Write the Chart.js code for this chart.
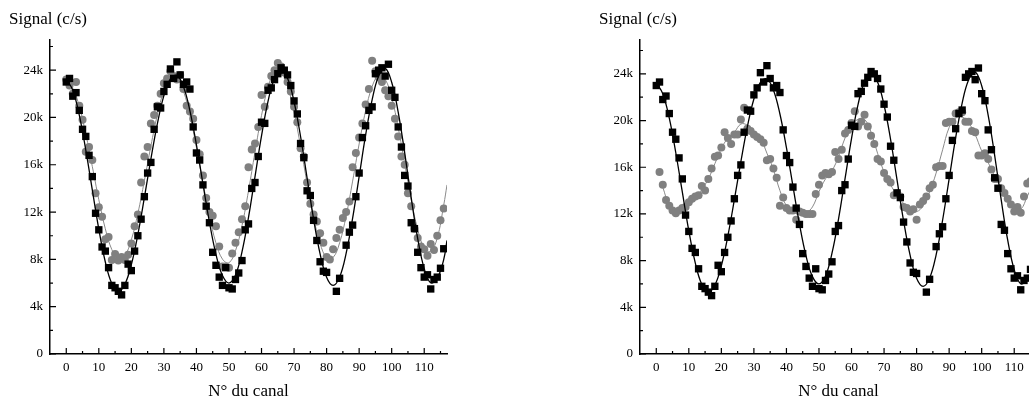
<!DOCTYPE html>
<html lang="fr">
<head>
<meta charset="UTF-8">
<title>Signal (c/s) - N° du canal</title>
<script src="https://cdn.jsdelivr.net/npm/chart.js@4.4.0/dist/chart.umd.min.js"></script>
<style>
  html, body { margin: 0; padding: 0; overflow: hidden; background: #fff; width: 1029px; height: 403px; }
  .panel { position: absolute; top: 0; width: 455px; height: 403px; }
  #left { left: 0; }
  #right { left: 590px; }
</style>
</head>
<body>
<div class="panel" id="left"><canvas id="chartLeft" width="455" height="403"></canvas></div>
<div class="panel" id="right"><canvas id="chartRight" width="455" height="403"></canvas></div>

<script>
// channel numbers (x)
const channels = [
  0, 1, 2, 3, 4, 5, 6, 7, 8, 9, 10, 11, 12, 13, 14, 15, 16, 17, 18, 19,
  20, 21, 22, 23, 24, 25, 26, 27, 28, 29, 30, 31, 32, 33, 34, 35, 36, 37, 38, 39,
  40, 41, 42, 43, 44, 45, 46, 47, 48, 49, 50, 51, 52, 53, 54, 55, 56, 57, 58, 59,
  60, 61, 62, 63, 64, 65, 66, 67, 68, 69, 70, 71, 72, 73, 74, 75, 76, 77, 78, 79,
  80, 81, 82, 83, 84, 85, 86, 87, 88, 89, 90, 91, 92, 93, 94, 95, 96, 97, 98, 99,
  100, 101, 102, 103, 104, 105, 106, 107, 108, 109, 110, 111, 112, 113, 114, 115, 116
];

// signal in thousands of counts/s
const blackSignal = [
  23.0, 23.3, 21.8, 22.1, 20.6, 19.0, 18.4, 16.8, 15.0, 11.9,
  10.5, 9.05, 8.7, 7.3, 5.8, 5.6, 5.3, 5.0, 5.8, 7.6,
  7.05, 8.7, 10.0, 11.4, 13.3, 15.3, 16.2, 19.0, 20.9, 20.8,
  22.2, 22.8, 24.1, 23.3, 24.7, 23.6, 22.8, 23.0, 22.4, 19.2,
  17.0, 16.4, 14.3, 12.5, 11.1, 8.6, 7.5, 6.5, 5.8, 7.3,
  5.6, 5.5, 6.3, 6.85, 7.9, 10.5, 11.0, 14.0, 14.5, 16.7,
  19.6, 19.5, 22.3, 22.5, 23.2, 23.7, 24.2, 24.0, 23.6, 22.7,
  21.4, 20.3, 17.8, 16.6, 13.8, 13.4, 11.3, 9.6, 7.8, 7.0,
  6.9, null, null, 5.3, 6.4, null, 9.2, 10.3, 10.9, 13.3,
  15.3, 18.3, 19.3, 20.6, 20.9, 23.7, 24.0, 24.2, 23.5, 24.5,
  22.3, 21.7, 19.2, 17.5, 15.1, 14.2, 11.1, 10.6, 8.6, 7.3,
  6.5, 6.7, 5.5, 6.3, 6.5, 7.25, 8.9
];

const grayLeft = [
  23.2, 22.7, 22.0, 23.0, 21.0, 19.8, 17.1, 17.5, 16.4, 13.6,
  12.4, 11.6, 9.7, 9.9, 7.95, 8.45, 7.9, 8.2, 7.95, 8.4,
  9.35, 10.8, 11.8, 14.5, 16.7, 17.5, 19.5, 20.2, 21.0, 22.0,
  22.9, 23.3, 23.9, 23.5, 23.2, 23.6, 22.4, 21.0, 20.5, 19.9,
  18.1, 16.9, 15.1, 13.2, 12.0, 11.7, 10.8, 9.1, 7.4, 7.4,
  7.3, 8.5, 9.4, 10.3, 11.4, 12.5, 15.8, 17.3, 17.8, 19.2,
  21.9, 20.9, 22.6, 23.5, 24.0, 24.6, 24.3, 23.8, 23.0, 22.2,
  20.9, 19.6, 17.4, 16.7, 14.5, 12.7, 11.8, 11.2, 10.2, 9.4,
  8.2, 8.0, 8.85, 9.8, 10.5, 11.5, 12.0, 12.9, 15.8, 17.0,
  18.3, 19.5, 21.1, 22.4, 24.8, 23.9, 23.4, 23.0, 22.3, 21.8,
  21.0, 19.9, 18.4, 16.7, 16.0, 13.6, 12.5, 10.6, 9.8, 9.1,
  8.85, 8.3, 9.3, 8.8, 10.0, 11.3, 12.3
];

const grayRight = [
  null, 15.6, 14.5, 13.2, 12.7, 12.3, 12.05, 12.3, 12.5, 12.6,
  13.0, 13.3, 13.5, 13.6, 14.4, 14.0, 15.0, 15.9, 16.9, 17.0,
  17.7, 19.0, 18.5, 18.0, 18.8, 18.8, 20.1, 21.1, 19.3, 19.1,
  18.8, 18.6, 18.4, 18.1, 16.6, 16.7, 15.9, 15.1, 12.7, 13.4,
  12.5, 12.3, 12.3, 11.5, 12.2, 12.1, 12.0, 12.0, 12.0, 13.7,
  14.5, 15.3, 15.5, 15.4, 15.6, 17.3, 16.7, 17.5, 18.9, 19.2,
  19.8, 20.8, 19.5, 19.9, 20.5, 19.5, 18.7, 18.0, 16.7, 16.5,
  15.5, 15.0, 14.7, 13.6, 13.8, 13.5, 12.6, 12.5, 12.2, 12.4,
  11.5, 12.8, 13.1, 13.5, 14.2, 14.5, 16.0, 16.1, 16.1, 19.8,
  19.9, 19.9, 20.6, 20.7, 20.7, 19.9, 19.9, 19.1, 19.0, 17.0,
  17.0, 17.2, 16.7, 15.8, 15.0, 15.0, 14.2, 13.8, 13.3, 12.8,
  12.2, 12.6, 12.1, 13.5, 14.6, 14.8, null
];

// fitted curves, every 2 channels
const fitChannels = [
  0, 2, 4, 6, 8, 10, 12, 14, 16, 18, 20, 22, 24, 26, 28, 30, 32, 34, 36, 38,
  40, 42, 44, 46, 48, 50, 52, 54, 56, 58, 60, 62, 64, 66, 68, 70, 72, 74, 76, 78,
  80, 82, 84, 86, 88, 90, 92, 94, 96, 98, 100, 102, 104, 106, 108, 110, 112, 114, 116, 117
];
const blackFit = [
  23.26, 22.3, 20.2, 17.24, 13.88, 10.56, 7.78, 5.95, 5.3, 5.89,
  7.56, 10.11, 13.22, 16.48, 19.48, 21.85, 23.27, 23.56, 22.62, 20.56,
  17.68, 14.39, 11.14, 8.43, 6.63, 6.0, 6.68, 8.64, 11.55, 15.0,
  18.45, 21.36, 23.32, 24.0, 23.31, 21.33, 18.39, 14.9, 11.41, 8.47,
  6.49, 5.8, 6.5, 8.5, 11.48, 15.0, 18.52, 21.5, 23.5, 24.15,
  22.98, 20.45, 17.0, 13.2, 9.75, 7.22, 6.02, 6.39, 8.0, 9.6
];
const grayLeftFit = [
  23.0, 22.46, 20.93, 18.61, 15.86, 13.05, 10.59, 8.83, 8.04, 8.32,
  9.66, 11.88, 14.65, 17.58, 20.24, 22.27, 23.36, 23.36, 22.24, 20.18,
  17.46, 14.48, 11.65, 9.39, 8.02, 7.72, 8.73, 10.85, 13.8, 17.08,
  20.17, 22.55, 23.83, 23.85, 22.65, 20.45, 17.56, 14.44, 11.55, 9.35,
  8.15, 8.16, 9.4, 11.67, 14.62, 17.76, 20.58, 22.62, 23.56, 23.23,
  21.67, 19.15, 16.1, 13.05, 10.53, 8.97, 8.7, 9.8, 12.6, 14.3
];
const fitChannelsRight = [
  2, 4, 6, 8, 10, 12, 14, 16, 18, 20, 22, 24, 26, 28, 30, 32, 34, 36, 38, 40,
  42, 44, 46, 48, 50, 52, 54, 56, 58, 60, 62, 64, 66, 68, 70, 72, 74, 76, 78, 80,
  82, 84, 86, 88, 90, 92, 94, 96, 98, 100, 102, 104, 106, 108, 110, 112, 114, 116
];
const grayRightFit = [
  14.3, 12.7, 12.1, 12.4, 12.9, 13.4, 14.1, 15.0, 16.3, 17.6,
  18.5, 19.0, 19.7, 19.6, 19.0, 18.5, 17.2, 15.8, 14.0, 12.7,
  12.2, 12.0, 12.1, 12.6, 13.9, 15.0, 15.7, 16.9, 18.5, 19.6,
  20.1, 20.1, 19.0, 17.2, 15.6, 14.5, 13.6, 12.9, 12.4, 12.2,
  12.7, 13.9, 15.5, 17.5, 19.4, 20.2, 20.3, 19.8, 18.8, 17.4,
  16.4, 15.2, 14.2, 13.3, 12.5, 12.4, 13.5, 14.7
];

const xTicks = [0, 10, 20, 30, 40, 50, 60, 70, 80, 90, 100, 110];
const xMinorTicks = [5, 15, 25, 35, 45, 55, 65, 75, 85, 95, 105, 115];
const yTicks = [0, 4, 8, 12, 16, 20, 24];
const yMinorTicks = [2, 6, 10, 14, 18, 22, 26];

const serif = "'Liberation Serif', 'Times New Roman', serif";

function toPoints(xs, ys) {
    return xs.map((x, i) => ({ x: x, y: ys[i] })).filter(p => p.y !== null);
}

// ticks pointing into the plot, like the original figure
const innerTicks = {
    id: 'innerTicks',
    afterDraw(chart) {
        const { ctx, scales: { x, y } } = chart;
        const bottom = y.bottom, left = x.left;
        ctx.save();
        ctx.strokeStyle = '#000';
        ctx.lineWidth = 1.2;
        ctx.beginPath();
        xTicks.forEach(v => {
            const px = x.getPixelForValue(v);
            ctx.moveTo(px, bottom); ctx.lineTo(px, bottom - 6);
        });
        xMinorTicks.forEach(v => {
            const px = x.getPixelForValue(v);
            ctx.moveTo(px, bottom); ctx.lineTo(px, bottom - 3);
        });
        yTicks.forEach(v => {
            const py = y.getPixelForValue(v);
            ctx.moveTo(left, py); ctx.lineTo(left + 6, py);
        });
        yMinorTicks.forEach(v => {
            const py = y.getPixelForValue(v);
            ctx.moveTo(left, py); ctx.lineTo(left + 3, py);
        });
        ctx.stroke();
        ctx.restore();
    }
};

function makeChart(id, grayData, grayFitX, grayFitY, yMax) {
    const ctx = document.getElementById(id).getContext('2d');
    return new Chart(ctx, {
        type: 'scatter',
        data: {
            datasets: [
                {
                    label: 'carrés',
                    data: toPoints(channels, blackSignal),
                    pointStyle: 'rect',
                    pointRadius: 5.2,
                    backgroundColor: '#000',
                    borderColor: '#000',
                    borderWidth: 0,
                    showLine: false
                },
                {
                    type: 'line',
                    label: 'ajustement',
                    data: toPoints(fitChannels, blackFit),
                    borderColor: '#000',
                    borderWidth: 1.3,
                    pointRadius: 0,
                    tension: 0.4,
                    fill: false
                },
                {
                    label: 'cercles',
                    data: toPoints(channels, grayData),
                    pointStyle: 'circle',
                    pointRadius: 4,
                    backgroundColor: '#808080',
                    borderColor: '#808080',
                    borderWidth: 0,
                    showLine: false
                },
                {
                    type: 'line',
                    label: 'ajustement gris',
                    data: toPoints(grayFitX, grayFitY),
                    borderColor: '#8a8a8a',
                    borderWidth: 1,
                    pointRadius: 0,
                    tension: 0.4,
                    fill: false
                }
            ]
        },
        options: {
            responsive: false,
            animation: false,
            layout: { padding: { left: 9, right: 8, top: 0, bottom: 0 } },
            plugins: {
                legend: { display: false },
                tooltip: { enabled: false },
                title: {
                    display: true,
                    text: 'Signal (c/s)',
                    align: 'start',
                    color: '#000',
                    font: { family: serif, size: 17, weight: 'normal', lineHeight: 1 },
                    padding: { top: 11, bottom: 12 }
                }
            },
            scales: {
                x: {
                    type: 'linear',
                    min: -5,
                    max: 117,
                    afterBuildTicks: s => { s.ticks = xTicks.map(v => ({ value: v })); },
                    afterFit: s => { s.height = 49; },
                    grid: { display: true, drawOnChartArea: false, drawTicks: false },
                    border: { display: true, color: '#000', width: 1.5 },
                    ticks: { color: '#000', font: { family: serif, size: 13 }, padding: 6, maxRotation: 0, autoSkip: false },
                    title: {
                        display: true,
                        text: 'N° du canal',
                        color: '#000',
                        font: { family: serif, size: 17, lineHeight: 1 },
                        padding: { top: 0, bottom: 3 }
                    }
                },
                y: {
                    type: 'linear',
                    min: 0,
                    max: yMax,
                    afterBuildTicks: s => { s.ticks = yTicks.map(v => ({ value: v })); },
                    afterFit: s => { s.width = 41; },
                    grid: { display: true, drawOnChartArea: false, drawTicks: false },
                    border: { display: true, color: '#000', width: 1.5 },
                    ticks: {
                        color: '#000',
                        font: { family: serif, size: 13 },
                        padding: 7,
                        callback: v => (v === 0 ? '0' : v + 'k')
                    }
                }
            }
        },
        plugins: [innerTicks]
    });
}

makeChart('chartLeft', grayLeft, fitChannels, grayLeftFit, 26.55);
makeChart('chartRight', grayRight, fitChannelsRight, grayRightFit, 26.9);
</script>
</body>
</html>
